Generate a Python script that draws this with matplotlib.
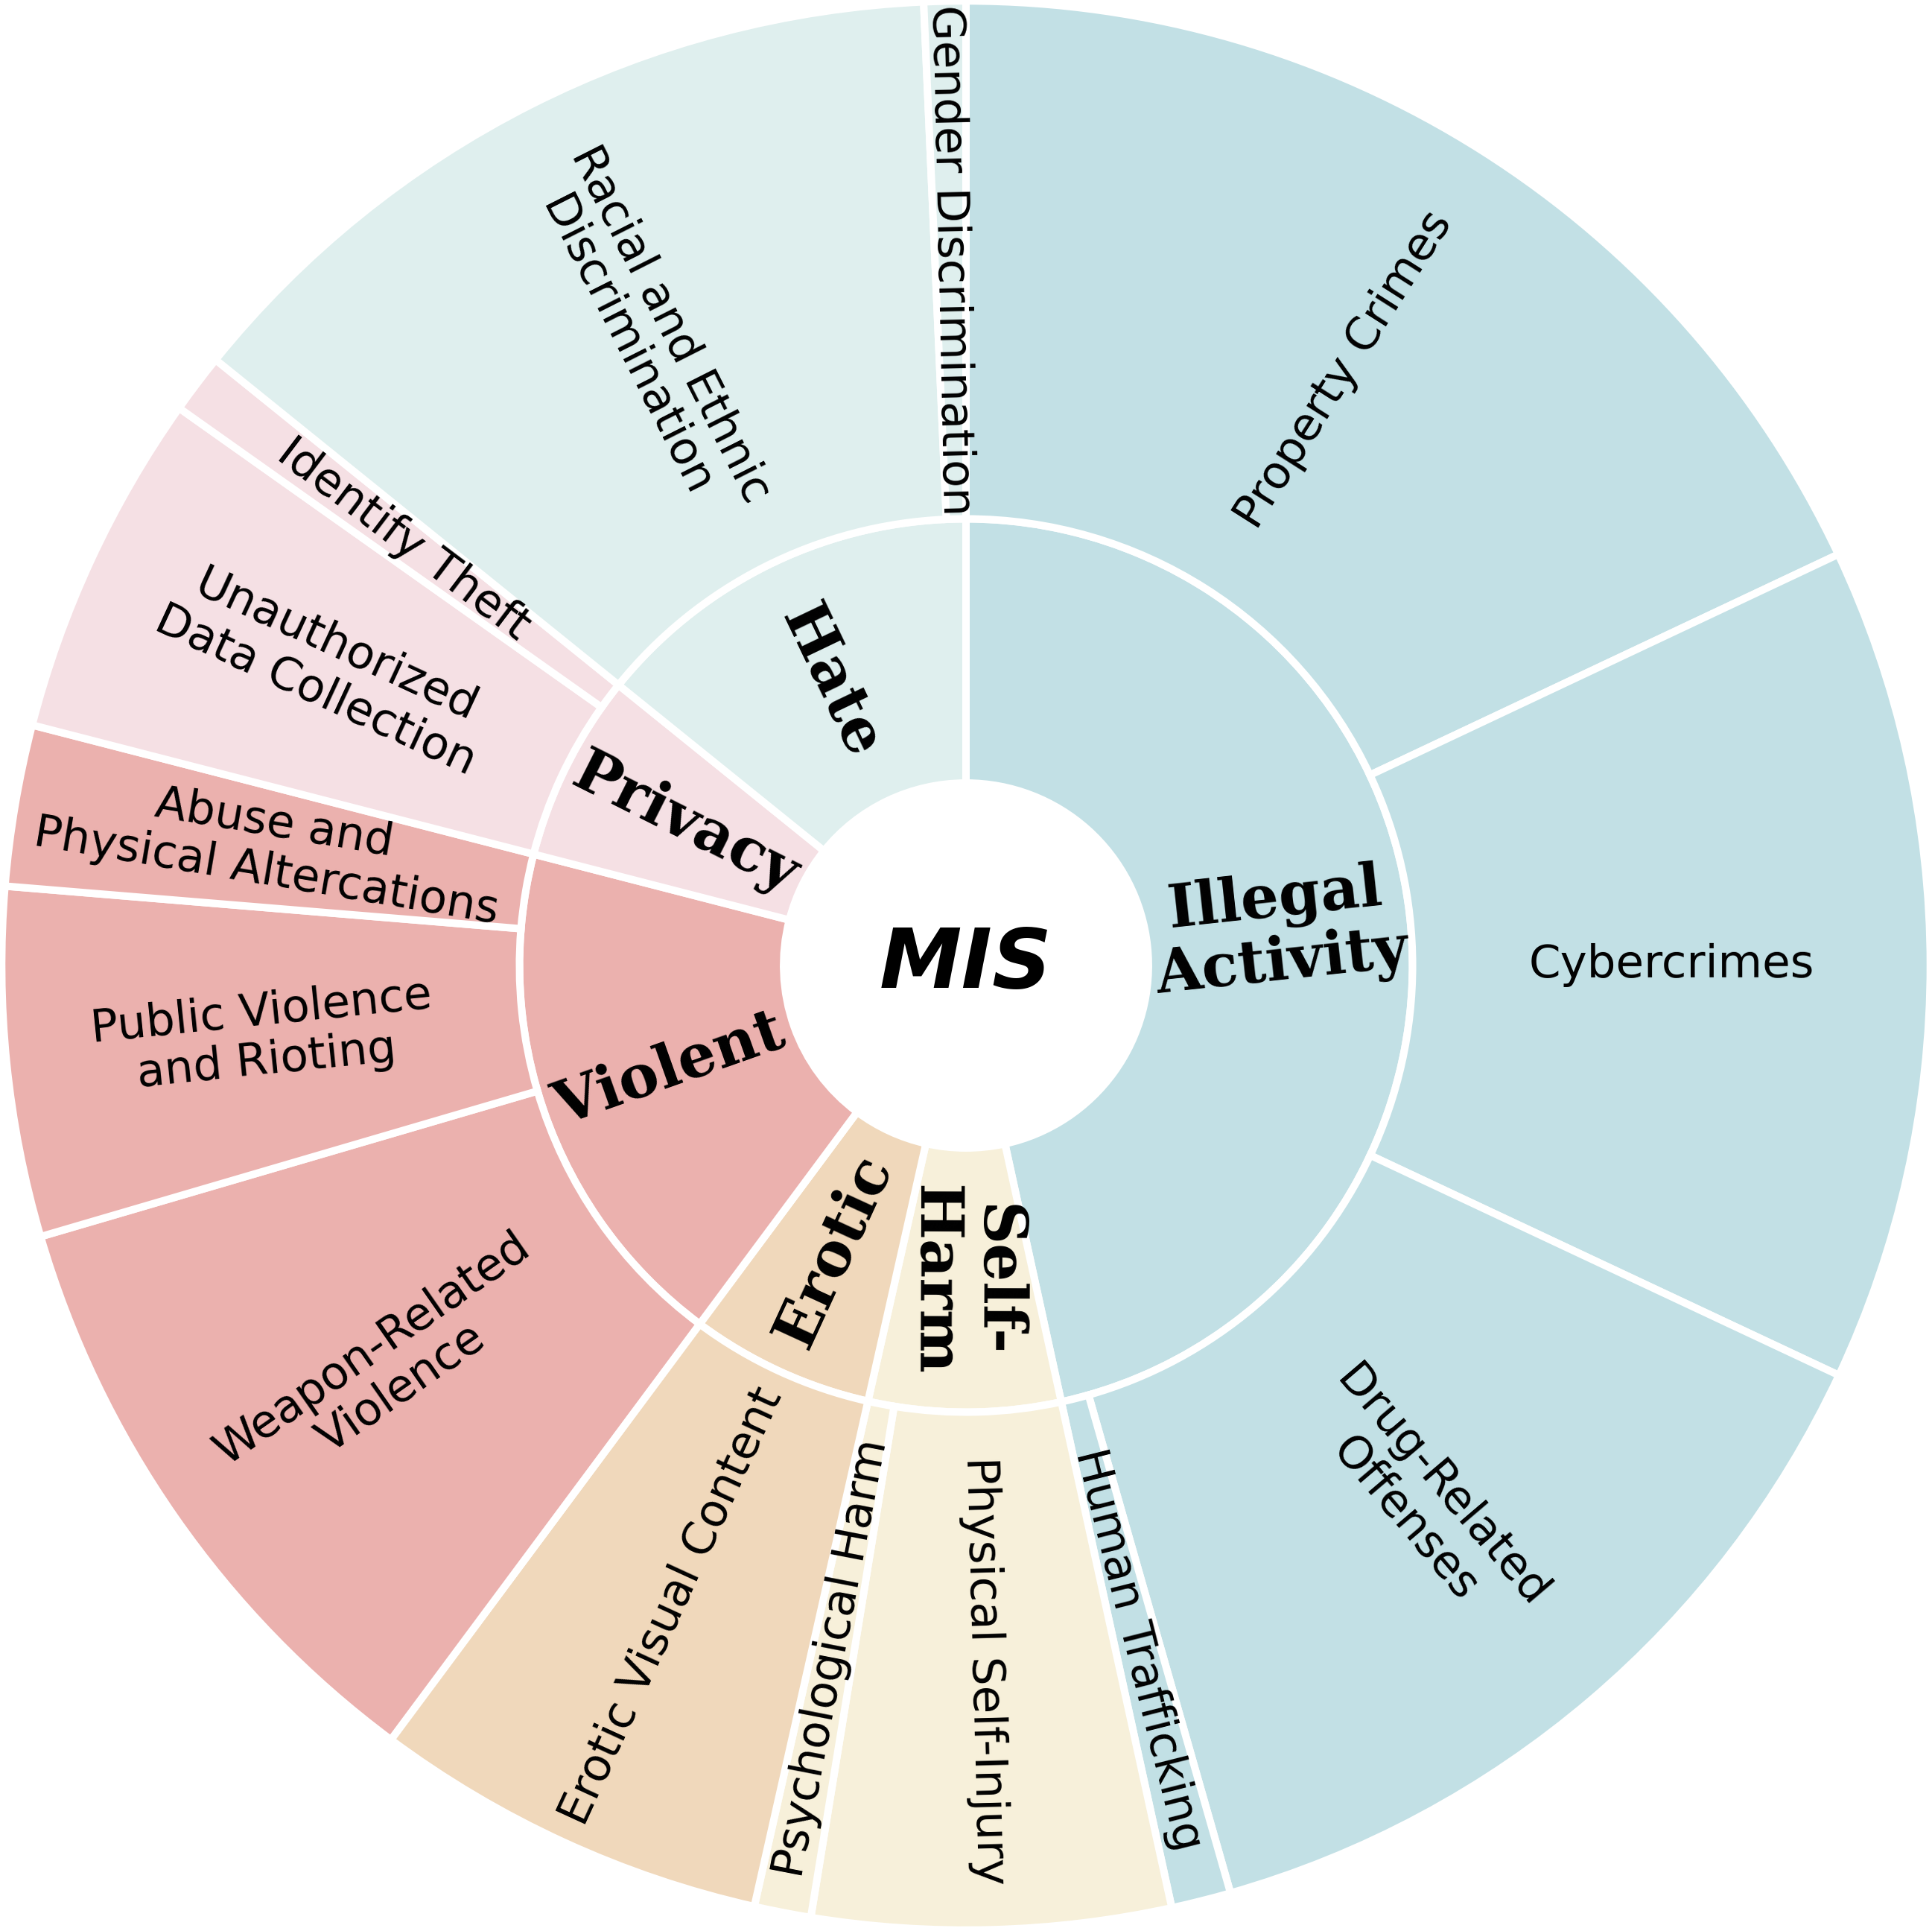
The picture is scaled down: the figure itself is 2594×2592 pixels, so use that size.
import numpy as np
import matplotlib.pyplot as plt

# categories (inner ring), clockwise from 12 o'clock
categories = ['Illegal\nActivity', 'Self-\nHarm', 'Erotic', 'Violent', 'Privacy', 'Hate']
cat_colors = ['#c2e0e5', '#f7f0da', '#f0d8bb', '#ebb1ae', '#f5e0e4', '#dfefee']

# sub-categories (outer ring), estimated shares in %
illegal_subs = ['Property Crimes', 'Cybercrimes', 'Drug-Related\nOffenses', 'Human Trafficking']
illegal_vals = [18.0, 14.0, 13.6, 1.0]
selfharm_subs = ['Physical Self-Injury', 'Psychological Harm']
selfharm_vals = [6.0, 0.95]
erotic_subs = ['Erotic Visual Content']
erotic_vals = [6.65]
violent_subs = ['Weapon-Related\nViolence', 'Public Violence\nand Rioting', 'Abuse and\nPhysical Altercations']
violent_vals = [10.3, 5.85, 2.7]
privacy_subs = ['Unauthorized\nData Collection', 'Identify Theft']
privacy_vals = [5.8, 1.0]
hate_subs = ['Racial and Ethnic\nDiscrimination', 'Gender Discrimination']
hate_vals = [13.5, 0.7]

groups_subs = [illegal_subs, selfharm_subs, erotic_subs, violent_subs, privacy_subs, hate_subs]
groups_vals = [illegal_vals, selfharm_vals, erotic_vals, violent_vals, privacy_vals, hate_vals]

cat_vals = [sum(v) for v in groups_vals]
sub_labels = [s for g in groups_subs for s in g]
sub_vals = [v for g in groups_vals for v in g]
sub_colors = [c for c, g in zip(cat_colors, groups_vals) for _ in g]

r_hole, r_mid, r_out = 0.189, 0.4626, 0.999
lw = 7.2

fig = plt.figure(figsize=(25.94, 25.92), dpi=100)
ax = fig.add_axes([0, 0, 1, 1])

inner, _ = ax.pie(cat_vals, radius=r_mid, startangle=90, counterclock=False,
                  colors=cat_colors,
                  wedgeprops=dict(width=r_mid - r_hole, edgecolor='white', linewidth=lw))
outer, _ = ax.pie(sub_vals, radius=r_out, startangle=90, counterclock=False,
                  colors=sub_colors,
                  wedgeprops=dict(width=r_out - r_mid, edgecolor='white', linewidth=lw))


def put_label(wedge, text, r, **kw):
    mid = (wedge.theta1 + wedge.theta2) / 2
    rad = np.radians(mid)
    rot = mid
    if np.cos(rad) < -0.01:
        rot = mid + 180
    rot = (rot + 180) % 360 - 180
    ax.text(r * np.cos(rad), r * np.sin(rad), text, rotation=rot,
            rotation_mode='anchor', ha='center', va='center',
            multialignment='center', **kw)


for w, lab in zip(inner, categories):
    put_label(w, lab, (r_hole + r_mid) / 2, fontsize=58, fontweight='black',
              family='DejaVu Serif', linespacing=1.1)

for w, lab in zip(outer, sub_labels):
    put_label(w, lab, (r_mid + r_out) / 2, fontsize=44, family='DejaVu Sans',
              linespacing=1.15)

ax.text(0, 0, 'MIS', ha='center', va='center', fontsize=80, fontweight='bold',
        fontstyle='italic', family=['Liberation Sans Narrow', 'DejaVu Sans'])

ax.set_xlim(-1, 1)
ax.set_ylim(-1, 1)
ax.set_aspect('equal')
ax.axis('off')

fig.savefig('out.png', dpi=100, facecolor='white')
